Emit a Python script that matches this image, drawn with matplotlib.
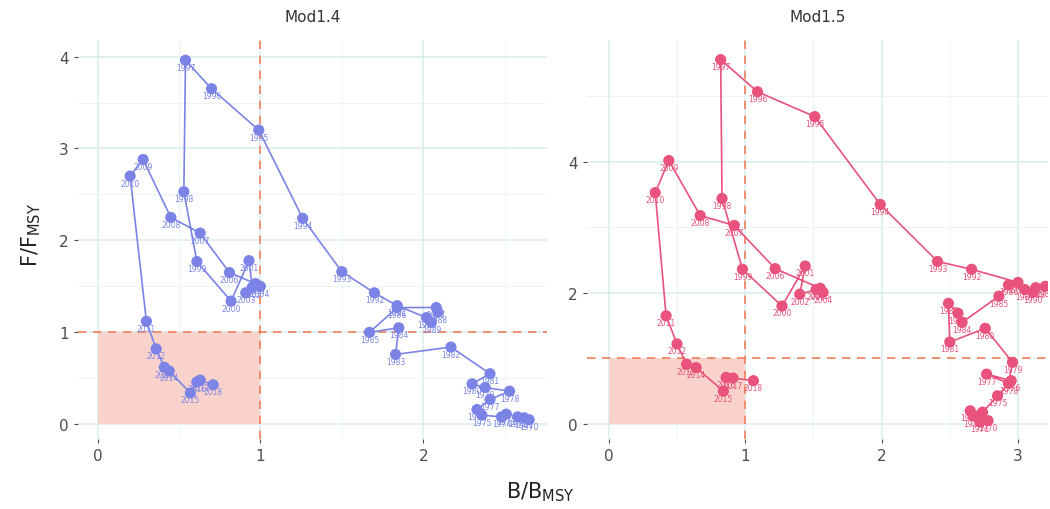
import matplotlib
matplotlib.use("Agg")
from matplotlib import pyplot as plt
from matplotlib.patches import Rectangle

# years shown along each trajectory
years = list(range(1970, 2019))

# Mod1.4 : B/Bmsy and F/Fmsy
b_mod14 = [2.65, 2.62, 2.58, 2.51, 2.48, 2.36, 2.33, 2.41, 2.53, 2.38,
           2.30, 2.41, 2.17, 1.83, 1.85, 1.67, 1.84, 2.08, 2.09, 2.05,
           2.02, 1.84, 1.70, 1.50, 1.26, 0.99, 0.70, 0.54, 0.53, 0.61,
           0.82, 0.93, 0.95, 0.91, 1.00, 0.97, 0.81, 0.63, 0.45, 0.28,
           0.20, 0.30, 0.36, 0.41, 0.44, 0.57, 0.61, 0.63, 0.71]
f_mod14 = [0.05, 0.07, 0.08, 0.11, 0.08, 0.10, 0.16, 0.27, 0.36, 0.40,
           0.44, 0.55, 0.84, 0.76, 1.05, 1.00, 1.27, 1.27, 1.22, 1.11,
           1.16, 1.29, 1.43, 1.66, 2.24, 3.20, 3.65, 3.96, 2.53, 1.77,
           1.34, 1.78, 1.49, 1.43, 1.50, 1.53, 1.65, 2.08, 2.25, 2.88,
           2.70, 1.12, 0.82, 0.62, 0.58, 0.34, 0.46, 0.48, 0.43]

# Mod1.5
b_mod15 = [2.78, 2.72, 2.67, 2.65, 2.74, 2.85, 2.95, 2.77, 2.93, 2.96,
           2.76, 2.50, 2.49, 2.56, 2.59, 2.86, 2.93, 3.05, 3.13, 3.20,
           3.11, 3.00, 2.66, 2.41, 1.99, 1.51, 1.09, 0.82, 0.83, 0.98,
           1.27, 1.44, 1.40, 1.52, 1.57, 1.55, 1.22, 0.92, 0.67, 0.44,
           0.34, 0.42, 0.50, 0.57, 0.64, 0.84, 0.86, 0.91, 1.06]
f_mod15 = [0.05, 0.03, 0.12, 0.20, 0.18, 0.43, 0.66, 0.76, 0.62, 0.94,
           1.46, 1.25, 1.84, 1.69, 1.55, 1.95, 2.12, 2.05, 2.08, 2.10,
           2.01, 2.16, 2.36, 2.48, 3.35, 4.69, 5.07, 5.56, 3.44, 2.36,
           1.80, 2.41, 1.98, 2.05, 2.01, 2.07, 2.37, 3.03, 3.18, 4.02,
           3.53, 1.65, 1.22, 0.91, 0.86, 0.50, 0.71, 0.70, 0.66]

models = ['Mod1.4', 'Mod1.5']
colors = ['#7B84E6', '#E8527C']

grid_col = '#D8ECEC'
text_col = '#4D4D4D'
ref_col = '#F0805A'


def draw_panel(ax, title, b, f, col, xlim, ylim, xticks, yticks, xminor, yminor):
    ax.set_xlim(xlim)
    ax.set_ylim(ylim)
    ax.add_patch(Rectangle((0, 0), 1, 1, facecolor='#F9D3CB', edgecolor='none', zorder=1))
    ax.axhline(1, color=ref_col, ls=(0, (5, 4)), lw=1.2, zorder=2)
    ax.axvline(1, color=ref_col, ls=(0, (5, 4)), lw=1.2, zorder=2)
    ax.plot(b, f, color=col, lw=1.2, zorder=3)
    ax.scatter(b, f, s=65, color=col, edgecolors='none', zorder=4)
    for yr, x, y in zip(years, b, f):
        ax.annotate(str(yr), (x, y), xytext=(0, -5), textcoords='offset points',
                    ha='center', va='center', fontsize=5.5, color=col, zorder=5,
                    annotation_clip=True, clip_on=True)
    ax.set_xticks(xticks)
    ax.set_yticks(yticks)
    ax.set_xticks(xminor, minor=True)
    ax.set_yticks(yminor, minor=True)
    ax.grid(True, which='major', color=grid_col, lw=1.1, zorder=0)
    ax.grid(True, which='minor', color='#EBF5F5', lw=0.7, zorder=0)
    ax.set_axisbelow(True)
    for s in ax.spines.values():
        s.set_visible(False)
    ax.tick_params(which='major', length=3, color=text_col, labelcolor=text_col, labelsize=11)
    ax.tick_params(which='minor', length=0)
    ax.set_title(title, fontsize=11, color='#333333', pad=14)


fig = plt.figure(figsize=(10.5, 5.1), dpi=100)
W, H = 1050, 510

ax1 = fig.add_axes([78 / W, (H - 440) / H, (547 - 78) / W, (440 - 41) / H])
draw_panel(ax1, models[0], b_mod14, f_mod14, colors[0],
           (-0.12, 2.76), (-0.16, 4.18), [0, 1, 2], [0, 1, 2, 3, 4],
           [0.5, 1.5, 2.5], [0.5, 1.5, 2.5, 3.5])

ax2 = fig.add_axes([587 / W, (H - 440) / H, (1048 - 587) / W, (440 - 41) / H])
draw_panel(ax2, models[1], b_mod15, f_mod15, colors[1],
           (-0.16, 3.22), (-0.23, 5.86), [0, 1, 2, 3], [0, 2, 4],
           [0.5, 1.5, 2.5], [1, 3, 5])

fig.text(0.515, 0.035, r'B/B$_{\mathrm{MSY}}$', ha='center', va='center', fontsize=15, color='#222222')
fig.text(0.03, 0.54, r'F/F$_{\mathrm{MSY}}$', ha='center', va='center', rotation=90, fontsize=15, color='#222222')

fig.savefig('out.png', dpi=100, facecolor='white')
